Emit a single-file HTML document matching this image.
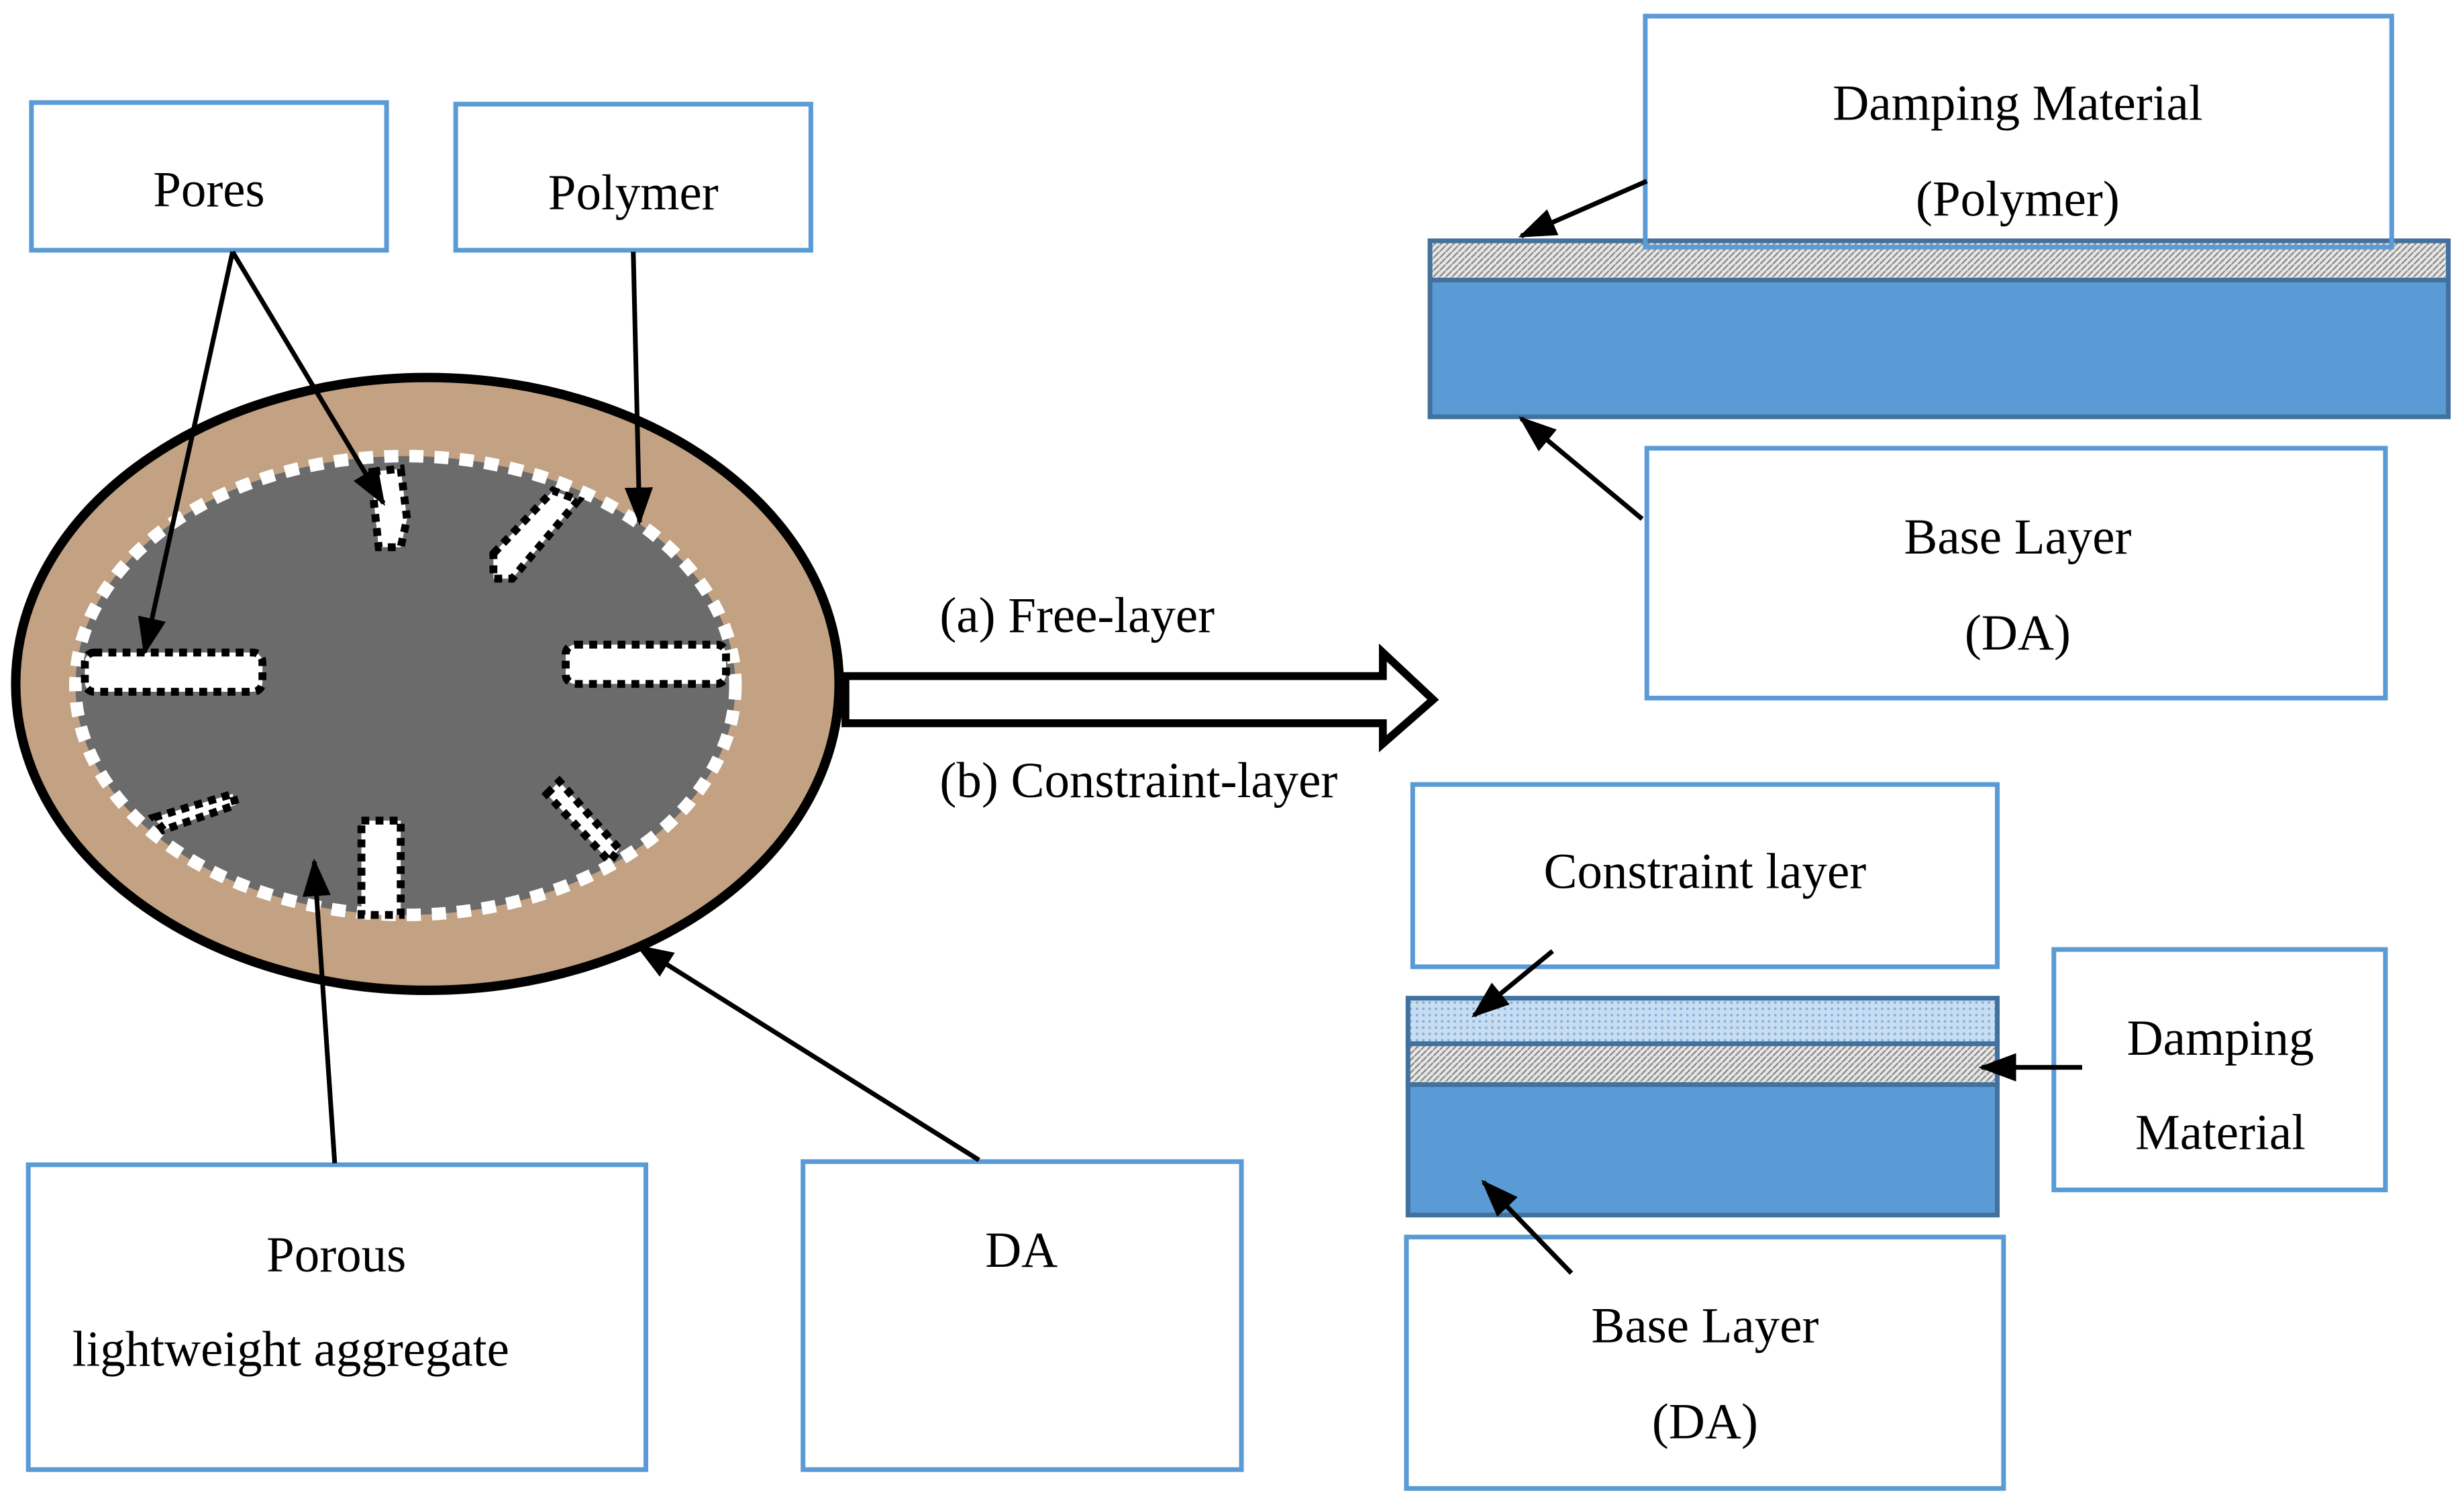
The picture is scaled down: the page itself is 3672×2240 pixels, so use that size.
<!DOCTYPE html>
<html><head><meta charset="utf-8"><style>
html,body{margin:0;padding:0;background:#fff;}
svg{display:block;}
text{font-family:"Liberation Serif","DejaVu Serif","Times New Roman",serif;font-size:32px;fill:#000;}
</style></head><body>
<svg width="3672" height="2240" viewBox="0 0 1568 956" xmlns="http://www.w3.org/2000/svg">
<defs>
<marker id="ah" markerUnits="userSpaceOnUse" markerWidth="24" markerHeight="18" refX="22" refY="9" orient="auto">
<path d="M0,0 L24,9 L0,18 Z" fill="#000"/>
</marker>
<pattern id="hatch" width="4" height="4" patternUnits="userSpaceOnUse">
<rect width="4" height="4" fill="#e6e6e6"/><path d="M0,4 L4,0" stroke="#888" stroke-width="1"/>
</pattern>
<pattern id="lb" width="4" height="4" patternUnits="userSpaceOnUse">
<rect width="4" height="4" fill="#c9ddf1"/><rect x="1" y="1" width="1.5" height="1.5" fill="#7fb0e0"/>
</pattern>
</defs>
<g fill="none" stroke="#5b9bd5" stroke-width="3">
<rect x="20" y="65" width="226" height="94"/>
<rect x="290" y="66" width="226" height="93"/>
<rect x="18" y="741" width="393" height="194"/>
<rect x="511" y="739" width="279" height="196"/>
<rect x="899" y="499" width="372" height="116"/>
<rect x="1307" y="604" width="211" height="153"/>
<rect x="895" y="787" width="380" height="160"/>
<rect x="1048" y="285" width="470" height="159"/>
</g>
<ellipse cx="272" cy="435" rx="262" ry="195" fill="#c2a283" stroke="#000" stroke-width="6"/>
<ellipse cx="258" cy="436" rx="210" ry="146" fill="#6b6b6b" stroke="#fff" stroke-width="8" stroke-dasharray="9 7"/>
<g fill="#fff" stroke="#000" stroke-width="5" stroke-dasharray="5 4">
<rect x="54" y="415" width="113" height="25" rx="6"/>
<rect x="360" y="410" width="102" height="25" rx="6"/>
<path d="M237,300 L255,298 L259,330 L255,348 L241,348 L238,320 Z"/>
<path d="M314,352 L352,312 L368,318 L326,368 L314,368 Z"/>
<path d="M98,520 L148,505 L150,512 L104,528 Z"/>
<rect x="230" y="522" width="25" height="60"/>
<path d="M348,505 L356,497 L394,540 L388,548 Z"/>
</g>
<path d="M538,430 L880,430 L880,415 L912,445 L880,473 L880,460 L538,460 Z" fill="#fff" stroke="#000" stroke-width="5" stroke-linejoin="miter"/>
<text x="598" y="402">(a) Free-layer</text>
<text x="598" y="507">(b) Constraint-layer</text>
<rect x="910" y="153" width="648" height="25" fill="url(#hatch)" stroke="#41719c" stroke-width="3"/>
<rect x="910" y="178" width="648" height="87" fill="#5b9bd5" stroke="#41719c" stroke-width="3"/>
<rect x="1047" y="10" width="475" height="147" fill="none" stroke="#5b9bd5" stroke-width="3"/>
<rect x="896" y="635" width="375" height="29" fill="url(#lb)" stroke="#41719c" stroke-width="3"/>
<rect x="896" y="664" width="375" height="26" fill="url(#hatch)" stroke="#41719c" stroke-width="3"/>
<rect x="896" y="690" width="375" height="83" fill="#5b9bd5" stroke="#41719c" stroke-width="3"/>
<g stroke="#000" stroke-width="3" fill="none" marker-end="url(#ah)">
<line x1="148" y1="160" x2="92" y2="415"/>
<line x1="148" y1="160" x2="244" y2="320"/>
<line x1="403" y1="160" x2="407" y2="332"/>
<line x1="213" y1="740" x2="200" y2="548"/>
<line x1="623" y1="738" x2="406" y2="602"/>
<line x1="1048" y1="115" x2="968" y2="150"/>
<line x1="1045" y1="330" x2="968" y2="266"/>
<line x1="988" y1="605" x2="938" y2="646"/>
<line x1="1325" y1="679" x2="1261" y2="679"/>
<line x1="1000" y1="810" x2="944" y2="752"/>
</g>
<g text-anchor="middle">
<text x="133" y="131">Pores</text>
<text x="403" y="133">Polymer</text>
<text x="214" y="809">Porous</text>
<text x="185" y="869">lightweight aggregate</text>
<text x="650" y="806">DA</text>
<text x="1284" y="76">Damping Material</text>
<text x="1284" y="137">(Polymer)</text>
<text x="1284" y="352">Base Layer</text>
<text x="1284" y="413">(DA)</text>
<text x="1085" y="565">Constraint layer</text>
<text x="1413" y="671">Damping</text>
<text x="1413" y="731">Material</text>
<text x="1085" y="854">Base Layer</text>
<text x="1085" y="915">(DA)</text>
</g>
</svg>
</body></html>
